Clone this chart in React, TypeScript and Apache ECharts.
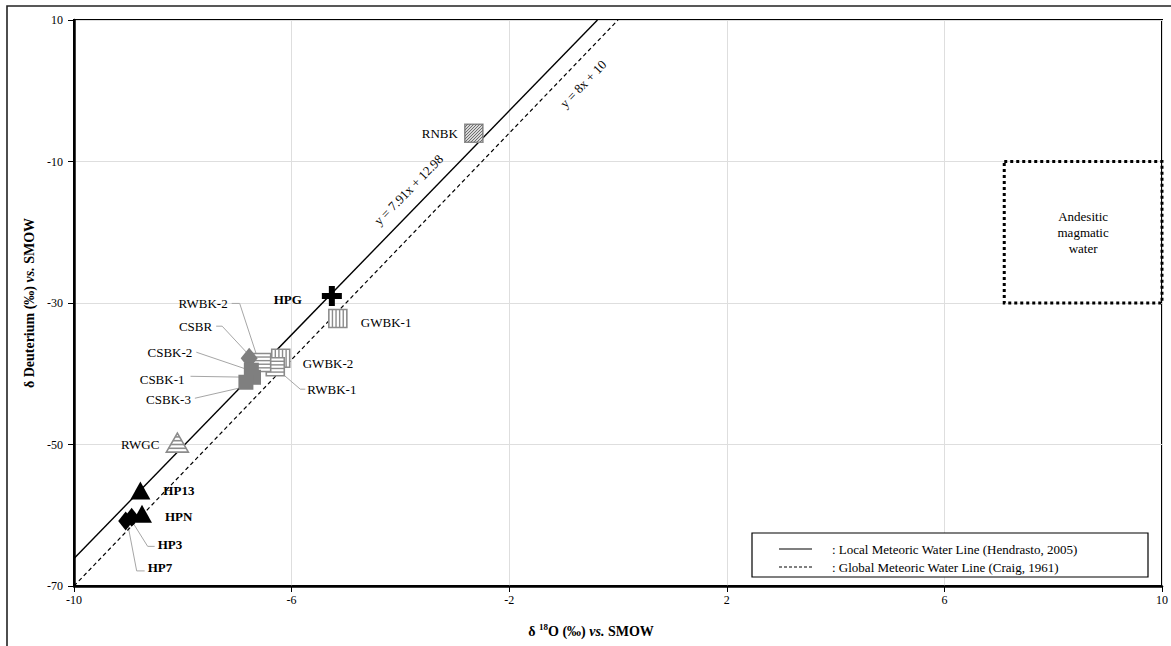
import React, { useEffect, useRef } from 'react';
import * as echarts from 'echarts';

// ---------------- data ----------------
const sampleNames = ['RNBK', 'HPG', 'GWBK-1', 'GWBK-2', 'RWBK-1', 'RWBK-2', 'CSBR', 'CSBK-2', 'CSBK-1', 'CSBK-3', 'RWGC', 'HP13', 'HPN', 'HP3', 'HP7'];
const d18O = [-2.65, -5.26, -5.15, -6.2, -6.3, -6.55, -6.78, -6.74, -6.7, -6.84, -8.1, -8.78, -8.75, -8.94, -9.05];
const dDeut = [-6.0, -29.0, -32.2, -37.8, -39.0, -38.4, -37.8, -39.5, -40.5, -41.2, -50.0, -56.5, -59.8, -60.3, -60.8];
const markerKinds = ['diagSquare', 'plus', 'vSquare', 'vSquare', 'hSquare', 'hSquare', 'grayDiamond', 'graySquare', 'graySquare', 'graySquare', 'hTriangle', 'blackTriangle', 'blackTriangle', 'blackDiamond', 'blackDiamond'];
const boldLabels = ['HPG', 'HP13', 'HPN', 'HP3', 'HP7'];

const lmwlLine = [[-10, -66.12], [-0.377, 10]]; // y = 7.91x + 12.98
const gmwlLine = [[-10, -70], [0, 10]]; // y = 8x + 10
const lmwlLabelAt = [-3.63, -15.7];
const gmwlLabelAt = [-0.9, 2.8];

const xAxisRange = { min: -10, max: 10, interval: 4 };
const yAxisRange = { min: -70, max: 10, interval: 20 };
const andesiticX = [7.1, 10];
const andesiticY = [-10, -30];

const legendTexts = [': Local Meteoric Water Line (Hendrasto, 2005)', ': Global Meteoric Water Line (Craig, 1961)'];

// label placement (pixel offsets from the marker) — layout only
const labelLayout: Record<string, { dx: number; dy: number; align: string; leader?: number[][] }> = {
  'RNBK': { dx: -16, dy: 0, align: 'right' },
  'HPG': { dx: -30, dy: 4, align: 'right' },
  'GWBK-1': { dx: 23, dy: 4, align: 'left' },
  'GWBK-2': { dx: 22, dy: 5, align: 'left' },
  'RWBK-1': { dx: 32, dy: 22.5, align: 'left', leader: [[7, 7], [25, 22.5], [30, 22.5]] },
  'RWBK-2': { dx: -34, dy: -59, align: 'right', leader: [[-4, -4], [-22, -59], [-30, -59]] },
  'CSBR': { dx: -37, dy: -32, align: 'right', leader: [[0, -3], [-27, -32], [-33, -32]] },
  'CSBK-2': { dx: -59, dy: -17.5, align: 'right', leader: [[1, 1], [-55, -18]] },
  'CSBK-1': { dx: -69, dy: 2, align: 'right', leader: [[0, 0], [-63, -1]] },
  'CSBK-3': { dx: -55, dy: 17.5, align: 'right', leader: [[-3, 5], [-51, 16]] },
  'RWGC': { dx: -18, dy: 0, align: 'right' },
  'HP13': { dx: 23, dy: 0, align: 'left' },
  'HPN': { dx: 23, dy: 3, align: 'left' },
  'HP3': { dx: 26, dy: 27, align: 'left', leader: [[1, 5], [16, 29], [23, 29]] },
  'HP7': { dx: 22, dy: 47, align: 'left', leader: [[2, 3], [11, 50], [19, 50]] },
};

const FONT = '"Liberation Serif", "Times New Roman", serif';
const PLUS_PATH = 'path://M7,0 H13 V7 H20 V13 H13 V20 H7 V13 H0 V7 H7 Z';

const hatchKinds = ['diagSquare', 'vSquare', 'hSquare', 'hTriangle'];

function renderHatched(params: any, api: any) {
  const i = api.value(2);
  const kind = markerKinds[i];
  const p = api.coord([api.value(0), api.value(1)]);
  const stroke = '#8c8c8c';
  const children: any[] = [];
  if (kind === 'hTriangle') {
    const h = 19, w = 22;
    const top = p[1] - h * 0.6, bot = p[1] + h * 0.4;
    children.push({ type: 'polygon', shape: { points: [[p[0], top], [p[0] - w / 2, bot], [p[0] + w / 2, bot]] }, style: { fill: '#fff', stroke, lineWidth: 1.6 } });
    for (let k = 1; k <= 4; k++) {
      const yy = top + (bot - top) * k / 5;
      const hw = (w / 2) * (yy - top) / (bot - top);
      children.push({ type: 'line', shape: { x1: p[0] - hw, y1: yy, x2: p[0] + hw, y2: yy }, style: { stroke, lineWidth: 1.6 } });
    }
  } else {
    const s = 18;
    const x0 = p[0] - s / 2, y0 = p[1] - s / 2;
    const fill = kind === 'diagSquare' ? '#d9d9d9' : '#fff';
    children.push({ type: 'rect', shape: { x: x0, y: y0, width: s, height: s }, style: { fill, stroke, lineWidth: 1.6 } });
    if (kind === 'vSquare') {
      for (let k = 1; k <= 4; k++) {
        const xx = x0 + k * s / 5;
        children.push({ type: 'line', shape: { x1: xx, y1: y0, x2: xx, y2: y0 + s }, style: { stroke, lineWidth: 1.4 } });
      }
    } else if (kind === 'hSquare') {
      for (let k = 1; k <= 4; k++) {
        const yy = y0 + k * s / 5;
        children.push({ type: 'line', shape: { x1: x0, y1: yy, x2: x0 + s, y2: yy }, style: { stroke, lineWidth: 1.4 } });
      }
    } else {
      const step = 3;
      for (let c = step; c < 2 * s; c += step) {
        const ax = Math.max(0, c - s), ay = c - ax;
        const bx = Math.min(s, c), by = c - bx;
        children.push({ type: 'line', shape: { x1: x0 + ax, y1: y0 + ay, x2: x0 + bx, y2: y0 + by }, style: { stroke: '#6e6e6e', lineWidth: 1 } });
      }
    }
  }
  return { type: 'group', children };
}

function solidItem(i: number) {
  const kind = markerKinds[i];
  const v = [d18O[i], dDeut[i]];
  switch (kind) {
    case 'plus': return { value: v, symbol: PLUS_PATH, symbolSize: 20, itemStyle: { color: '#000', opacity: 1 } };
    case 'grayDiamond': return { value: v, symbol: 'diamond', symbolSize: [17, 21], itemStyle: { color: '#7f7f7f', opacity: 1 } };
    case 'graySquare': return { value: v, symbol: 'rect', symbolSize: 15, itemStyle: { color: '#7f7f7f', opacity: 1 } };
    case 'blackTriangle': return { value: v, symbol: 'triangle', symbolSize: [20, 18], itemStyle: { color: '#000', opacity: 1 } };
    case 'blackDiamond': return { value: v, symbol: 'diamond', symbolSize: [15, 19], itemStyle: { color: '#000', opacity: 1 } };
    default: return null;
  }
}

export default function App() {
  const ref = useRef<HTMLDivElement>(null);
  useEffect(() => {
    if (!ref.current) return;
    const chart = echarts.init(ref.current, undefined, { renderer: 'svg' });
    const hatchData: any[] = [];
    const solidData: any[] = [];
    sampleNames.forEach((_, i) => {
      if (hatchKinds.includes(markerKinds[i])) hatchData.push([d18O[i], dDeut[i], i]);
      else { const it = solidItem(i); if (it) solidData.push(it); }
    });

    chart.setOption({
      animation: false,
      backgroundColor: '#fff',
      grid: { left: 74, right: 7, top: 20, bottom: 60, show: true, borderColor: '#000', borderWidth: 2, backgroundColor: 'transparent' },
      xAxis: {
        type: 'value', ...xAxisRange,
        axisLine: { show: true, onZero: false, lineStyle: { color: '#000', width: 2.5 } },
        axisTick: { show: true, length: 6, lineStyle: { color: '#000', width: 1 } },
        axisLabel: { color: '#000', fontFamily: FONT, fontSize: 12, margin: 8 },
        splitLine: { show: true, lineStyle: { color: '#dedede', width: 1 } },
      },
      yAxis: {
        type: 'value', ...yAxisRange,
        axisLine: { show: true, onZero: false, lineStyle: { color: '#000', width: 2.5 } },
        axisTick: { show: true, length: 6, lineStyle: { color: '#000', width: 1 } },
        axisLabel: { color: '#000', fontFamily: FONT, fontSize: 12, margin: 11 },
        splitLine: { show: true, lineStyle: { color: '#dedede', width: 1 } },
      },
      series: [
        {
          type: 'line', data: gmwlLine, symbol: 'none', z: 3,
          lineStyle: { color: '#000', width: 1.2, type: [4, 3] },
          markArea: {
            silent: true,
            itemStyle: { color: 'rgba(0,0,0,0)', borderColor: '#000', borderWidth: 3, borderType: [3, 3] },
            label: { show: true, position: 'inside', formatter: 'Andesitic\nmagmatic\nwater', fontFamily: FONT, fontSize: 13, lineHeight: 16, color: '#000' },
            data: [[{ coord: [andesiticX[0], andesiticY[0]] }, { coord: [andesiticX[1], andesiticY[1]] }]],
          },
        },
        { type: 'line', data: lmwlLine, symbol: 'none', z: 3, lineStyle: { color: '#000', width: 1.4 } },
        { type: 'custom', data: hatchData, renderItem: renderHatched, z: 4, encode: { x: 0, y: 1 } },
        { type: 'scatter', data: solidData, z: 5 },
      ],
    });

    const px = (x: number, y: number) => chart.convertToPixel({ gridIndex: 0 }, [x, y]) as number[];
    const g: any[] = [];
    // outer frame
    g.push({ type: 'rect', z: 100, shape: { x: 7, y: 6, width: 1400, height: 900 }, style: { fill: 'none', stroke: '#222', lineWidth: 1.6 } });

    sampleNames.forEach((name, i) => {
      const L = labelLayout[name];
      const p = px(d18O[i], dDeut[i]);
      if (L.leader) {
        g.push({ type: 'polyline', z: 1, shape: { points: L.leader.map(o => [p[0] + o[0], p[1] + o[1]]) }, style: { stroke: '#a6a6a6', lineWidth: 1, fill: 'none' } });
      }
      g.push({
        type: 'text', z: 10, x: p[0] + L.dx, y: p[1] + L.dy,
        style: {
          text: name, fill: '#000', fontFamily: FONT, fontSize: 13,
          fontWeight: boldLabels.includes(name) ? 'bold' : 'normal',
          align: L.align, textAlign: L.align, verticalAlign: 'middle', textVerticalAlign: 'middle',
        },
      });
    });

    // equation labels
    const rot = Math.atan((7.91 * 566 / 80) / (1090 / 20));
    const a = px(lmwlLabelAt[0], lmwlLabelAt[1]);
    g.push({ type: 'text', z: 10, x: a[0] - 12, y: a[1] - 12, rotation: rot, style: { text: 'y = 7.91x + 12.98', fill: '#000', fontFamily: FONT, fontSize: 13, align: 'center', textAlign: 'center', verticalAlign: 'middle', textVerticalAlign: 'middle' } });
    const rot2 = Math.atan((8 * 566 / 80) / (1090 / 20));
    const b = px(gmwlLabelAt[0], gmwlLabelAt[1]);
    g.push({ type: 'text', z: 10, x: b[0] + 14, y: b[1] + 13, rotation: rot2, style: { text: 'y = 8x + 10', fill: '#000', fontFamily: FONT, fontSize: 13, align: 'center', textAlign: 'center', verticalAlign: 'middle', textVerticalAlign: 'middle' } });

    // axis names
    const richBase = { fontFamily: FONT, fontSize: 14, fontWeight: 'bold', fill: '#000', color: '#000' };
    g.push({
      type: 'text', z: 10, x: 591, y: 631,
      style: {
        text: '{a|δ }{s|18}{a|O (‰) }{i|vs.}{a| SMOW}', align: 'center', textAlign: 'center', verticalAlign: 'middle', textVerticalAlign: 'middle',
        rich: {
          a: richBase,
          s: { ...richBase, fontSize: 9, padding: [0, 0, 8, 0] },
          i: { ...richBase, fontStyle: 'italic' },
        },
      },
    });
    g.push({
      type: 'text', z: 10, x: 29, y: 303, rotation: Math.PI / 2,
      style: {
        text: '{a|δ Deuterium (‰) }{i|vs.}{a| SMOW}', align: 'center', textAlign: 'center', verticalAlign: 'middle', textVerticalAlign: 'middle',
        rich: { a: richBase, i: { ...richBase, fontStyle: 'italic' } },
      },
    });

    // legend box
    g.push({ type: 'rect', z: 10, shape: { x: 752, y: 533, width: 396, height: 44 }, style: { fill: '#fff', stroke: '#000', lineWidth: 1.2 } });
    g.push({ type: 'line', z: 11, shape: { x1: 779, y1: 549, x2: 812, y2: 549 }, style: { stroke: '#000', lineWidth: 1.2 } });
    g.push({ type: 'line', z: 11, shape: { x1: 779, y1: 567, x2: 812, y2: 567 }, style: { stroke: '#000', lineWidth: 1, lineDash: [3, 2] } });
    legendTexts.forEach((t, k) => {
      g.push({ type: 'text', z: 11, x: 832, y: 549 + k * 18, style: { text: t, fill: '#000', fontFamily: FONT, fontSize: 13, align: 'left', textAlign: 'left', verticalAlign: 'middle', textVerticalAlign: 'middle' } });
    });

    chart.setOption({ graphic: g });
    return () => chart.dispose();
  }, []);
  return <div ref={ref} style={{ position: 'fixed', left: 0, top: 0, width: 1171, height: 646 }} />;
}
